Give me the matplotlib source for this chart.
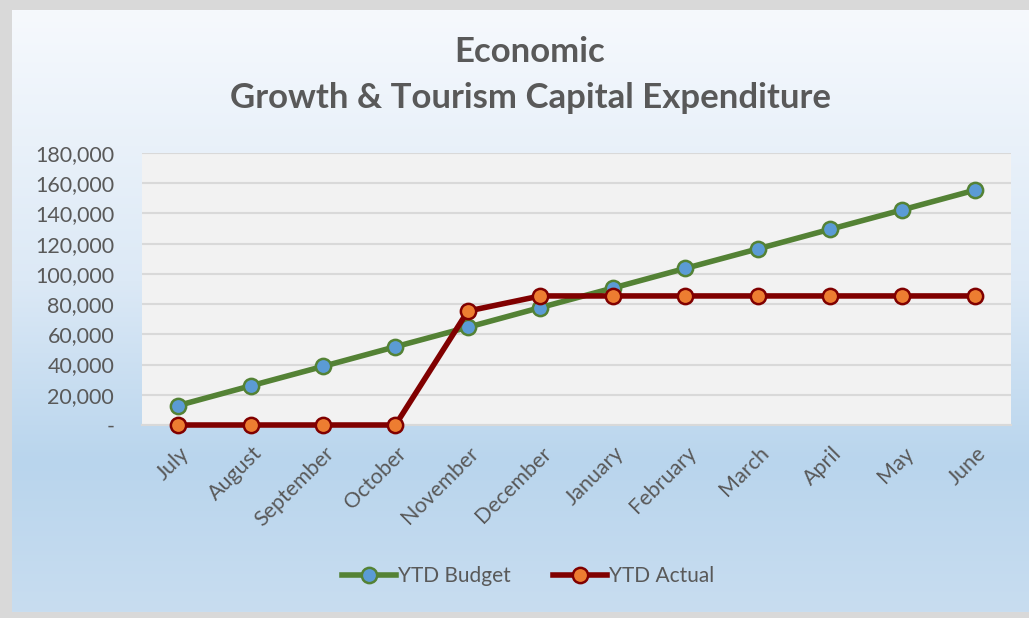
import numpy as np
import matplotlib.pyplot as plt
from matplotlib.colors import LinearSegmentedColormap
from matplotlib.ticker import FuncFormatter
from matplotlib.transforms import ScaledTranslation

months = ["July", "August", "September", "October", "November", "December",
          "January", "February", "March", "April", "May", "June"]
ytd_budget = [12900, 25900, 38800, 51800, 64700, 77700,
              90600, 103600, 116500, 129500, 142400, 155400]
ytd_actual = [0, 0, 0, 0, 75400, 85400,
              85400, 85400, 85400, 85400, 85400, 85400]

plt.rcParams['font.family'] = ['Lato', 'DejaVu Sans']

W, H = 1029, 618
fig = plt.figure(figsize=(W / 100, H / 100), dpi=100)
fig.patch.set_facecolor("#d9d9d9")

# chart area with a vertical gradient
bg = fig.add_axes([12 / W, 6 / H, 1 - 12 / W, 1 - 16 / H])
cmap = LinearSegmentedColormap.from_list(
    "bg", [(0.0, "#f6f9fd"), (0.45, "#dce9f6"), (0.75, "#b9d5ed"), (1.0, "#c8ddf0")])
grad = np.linspace(0, 1, 256).reshape(-1, 1)
bg.imshow(grad, aspect="auto", cmap=cmap, extent=[0, 1, 0, 1], origin="upper")
bg.set_axis_off()

ax = fig.add_axes([142 / W, 1 - 425 / H, (1011 - 142) / W, (425 - 153) / H])
ax.set_facecolor("#f2f2f2")

x = np.arange(len(months))
ax.plot(x, ytd_budget, color="#548235", lw=4, marker="o", ms=11,
        mfc="#5b9bd5", mec="#548235", mew=1.8, label="YTD Budget", zorder=3)
ax.plot(x, ytd_actual, color="#800000", lw=4, marker="o", ms=11,
        mfc="#ed7d31", mec="#800000", mew=1.8, label="YTD Actual", zorder=4)

ax.set_xlim(-0.5, len(months) - 0.5)
ax.set_ylim(0, 180000)
ax.set_yticks(range(0, 180001, 20000))
ax.yaxis.set_major_formatter(FuncFormatter(lambda v, p: "-" if v == 0 else f"{int(v):,}"))
ax.set_xticks(x)
ax.set_xticklabels(months, rotation=45, ha="right", rotation_mode="anchor")
ax.tick_params(axis="both", length=0, labelcolor="#595959")
ax.tick_params(axis="y", pad=20, labelsize=15.5)
ax.tick_params(axis="x", pad=13, labelsize=15.5)
shift = ScaledTranslation(1 / 100, 0, fig.dpi_scale_trans)
for lab in ax.get_xticklabels():
    lab.set_transform(lab.get_transform() + shift)

ax.grid(axis="y", color="#d9d9d9", lw=1.5)
ax.set_axisbelow(True)
for s in ["top", "right", "left"]:
    ax.spines[s].set_visible(False)
ax.spines["bottom"].set_color("#d9d9d9")
ax.spines["bottom"].set_linewidth(1.5)
for ln in ax.lines:
    ln.set_clip_on(False)

fig.text(530 / W, 1 - 52 / H, "Economic", ha="center", va="center",
         fontsize=25, fontweight="bold", color="#595959")
fig.text(530 / W, 1 - 98 / H, "Growth & Tourism Capital Expenditure", ha="center",
         va="center", fontsize=25, fontweight="bold", color="#595959")

fig.legend(loc="center", bbox_to_anchor=(528 / W, 1 - 576 / H), ncol=2, frameon=False,
           fontsize=15, labelcolor="#595959", handlelength=2.6, handletextpad=0.1,
           columnspacing=2.0)

fig.savefig("out.png", dpi=100, facecolor=fig.get_facecolor())
